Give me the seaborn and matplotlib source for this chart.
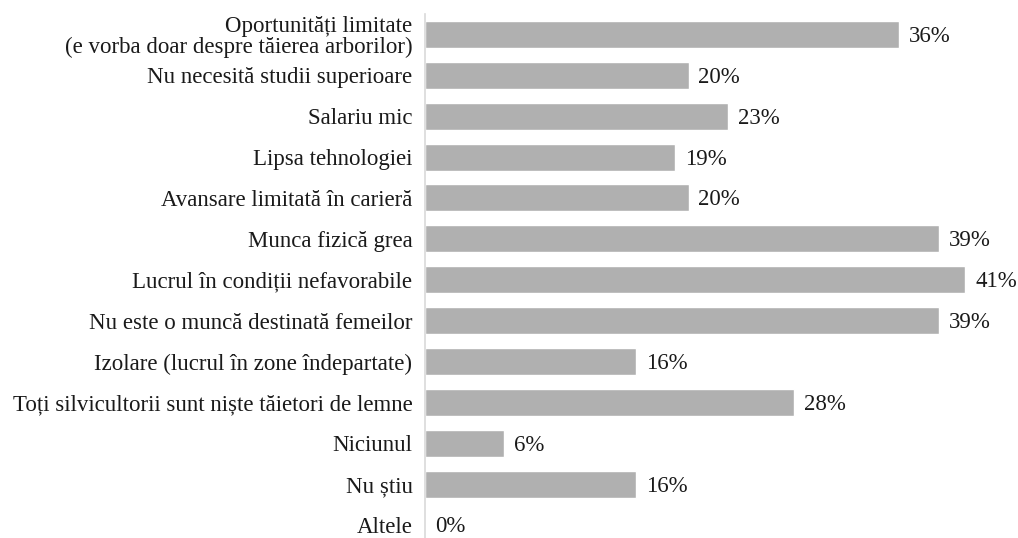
import matplotlib
matplotlib.use("Agg")
import matplotlib.pyplot as plt
import seaborn as sns
import pandas as pd

# Date
categorii = [
    "Oportunități limitate\n(e vorba doar despre tăierea arborilor)",
    "Nu necesită studii superioare",
    "Salariu mic",
    "Lipsa tehnologiei",
    "Avansare limitată în carieră",
    "Munca fizică grea",
    "Lucrul în condiții nefavorabile",
    "Nu este o muncă destinată femeilor",
    "Izolare (lucrul în zone îndepartate)",
    "Toți silvicultorii sunt niște tăietori de lemne",
    "Niciunul",
    "Nu știu",
    "Altele",
]
procente = [36, 20, 23, 19, 20, 39, 41, 39, 16, 28, 6, 16, 0]

df = pd.DataFrame({"categorie": categorii, "procent": procente})

sns.set_style("white")
plt.rcParams["font.family"] = ["Liberation Serif", "DejaVu Serif"]

fig = plt.figure(figsize=(10.18, 5.38), dpi=100)
ax = fig.add_axes([425 / 1018, 0.0, 1 - 425 / 1018, (538 - 14) / 538])

sns.barplot(data=df, x="procent", y="categorie", color="#b0b0b0",
            saturation=1, width=0.66, ax=ax)

for i, v in enumerate(procente):
    ax.text(v + 0.75, i + 0.05, f"{v}%", va="center", ha="left",
            fontsize=16.5, color="#1a1a1a")

ax.set_xlim(0, 45)
ax.set_ylim(12.32, -0.5)
ax.set_xlabel("")
ax.set_ylabel("")
ax.set_xticks([])
ax.tick_params(axis="y", length=0, pad=9, labelsize=16.5, labelcolor="#1a1a1a")
for lbl in ax.get_yticklabels():
    lbl.set_linespacing(1.02)
for s in ["top", "right", "bottom"]:
    ax.spines[s].set_visible(False)
ax.spines["left"].set_color("#d9d9d9")
ax.spines["left"].set_linewidth(1.2)

fig.savefig("out.png", dpi=100)
